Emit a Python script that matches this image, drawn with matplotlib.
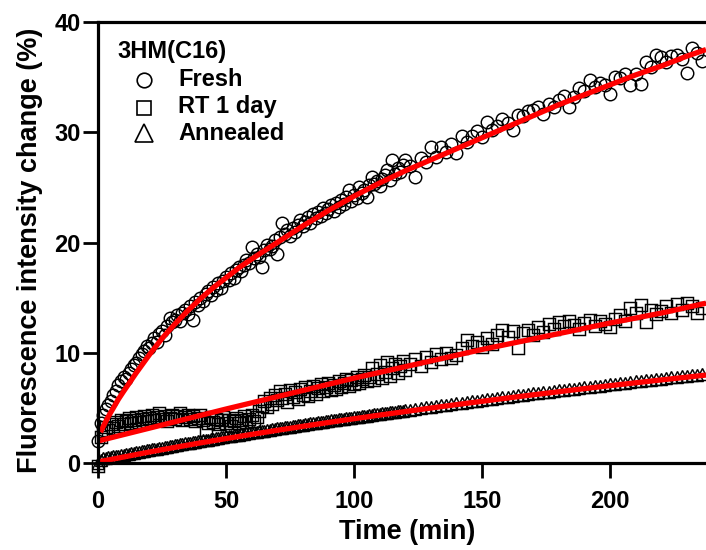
import numpy as np
import matplotlib
matplotlib.use("Agg")
import matplotlib.pyplot as plt
from matplotlib.lines import Line2D

# ---------------- data ----------------
time_min = np.concatenate([np.arange(0, 121, 1), np.arange(122, 237, 2)])

fresh = [
    2.0, 3.6, 4.4, 4.9, 5.3, 5.6, 6.2, 6.5, 7.1, 7.4,
    7.8, 7.6, 8.2, 8.5, 8.9, 9.1, 9.5, 9.9, 10.2, 10.6,
    10.4, 10.9, 11.3, 11.0, 11.7, 12.0, 11.6, 12.4, 13.2, 12.8,
    13.0, 13.4, 12.9, 13.6, 13.9, 13.5, 14.2, 13.0, 14.6, 14.3,
    15.0, 14.7, 15.3, 15.6, 15.2, 16.0, 15.7, 16.3, 15.9, 16.5,
    16.9, 16.6, 17.2, 16.8, 17.5, 17.8, 17.4, 18.0, 18.4, 18.1,
    19.6, 18.6, 19.0, 18.7, 17.8, 19.3, 19.8, 19.4, 19.7, 20.2,
    19.0, 20.5, 21.8, 20.8, 21.1, 20.6, 21.3, 21.0, 21.6, 22.0,
    21.5, 21.9, 22.3, 21.8, 22.6, 22.2, 22.8, 22.4, 23.1, 22.7,
    23.0, 23.4, 22.9, 23.6, 23.2, 23.9, 23.5, 24.1, 24.8, 23.8,
    24.3, 24.0, 25.0, 24.5, 24.8, 24.1, 25.2, 25.9, 25.3, 25.6,
    25.1, 25.8, 26.1, 26.6, 25.7, 27.5, 26.2, 26.8, 26.4, 27.0,
    27.5,
    26.9, 25.9, 27.7, 27.3, 28.7, 27.8, 28.7, 28.2, 28.9, 28.1,
    29.7, 29.1, 29.7, 30.1, 29.6, 30.9, 30.2, 30.6, 31.2, 30.8,
    30.2, 31.6, 31.5, 31.9, 32.0, 32.3, 31.7, 32.6, 32.3, 32.9,
    33.3, 32.3, 33.2, 34.0, 33.7, 34.7, 34.1, 34.5, 34.3, 33.5,
    35.0, 34.9, 35.3, 34.3, 35.3, 34.4, 36.4, 35.9, 37.0, 36.8,
    36.4, 36.9, 37.0, 36.6, 35.4, 37.6, 37.2, 36.5,
]

rt_1day = [
    -0.3, 2.4, 2.9, 3.3, 3.0, 3.5, 3.2, 3.7, 3.4, 3.9,
    3.5, 3.8, 4.1, 3.6, 3.9, 4.2, 3.7, 4.0, 4.3, 3.8,
    4.1, 4.4, 3.9, 4.2, 4.5, 4.0, 4.3, 3.8, 4.1, 4.4,
    4.0, 4.3, 4.5, 3.9, 4.2, 4.4, 4.0, 4.3, 3.8, 4.1,
    4.4, 3.9, 3.0, 3.6, 4.2, 3.7, 4.0, 3.5, 3.9, 4.2,
    3.6, 3.9, 3.4, 3.8, 4.1, 3.6, 3.9, 4.3, 3.7, 4.0,
    4.4, 3.8, 4.2, 4.7, 5.2, 5.6, 5.1, 5.9, 5.4, 6.2,
    5.7, 6.5, 5.9, 6.3, 5.5, 6.6, 6.0, 6.4, 5.8, 6.7,
    6.2, 6.9, 6.1, 6.5, 7.0, 6.3, 6.8, 7.2, 6.5, 6.9,
    7.3, 6.6, 7.1, 6.7, 7.4, 6.9, 7.3, 7.6, 7.0, 7.5,
    7.2, 7.8, 7.3, 7.6, 8.0, 7.4, 7.8, 8.6, 7.5, 8.1,
    8.9, 7.7, 8.3, 9.2, 7.9, 8.6, 9.0, 8.2, 8.8, 9.3,
    8.4,
    9.0, 9.4, 8.8, 9.6, 9.2, 9.9, 9.4, 10.0, 9.5, 9.8,
    10.4, 11.2, 10.6, 11.0, 10.5, 11.3, 10.8, 11.6, 12.1, 11.4,
    12.0, 10.4, 11.8, 12.1, 11.6, 12.3, 11.9, 12.6, 12.2, 12.8,
    12.4, 12.9, 12.5, 12.2, 12.7, 13.0, 12.4, 12.9, 12.6, 12.3,
    13.1, 13.4, 12.9, 14.1, 13.6, 14.3, 12.8, 13.9, 13.5, 13.8,
    14.2, 13.6, 14.4, 13.9, 14.5, 14.2, 13.6, 14.1,
]

annealed = [
    0.05, 0.32, 0.42, 0.45, 0.52, 0.55, 0.60, 0.63, 0.68, 0.72,
    0.77, 0.80, 0.86, 0.89, 0.95, 0.97, 1.03, 1.06, 1.12, 1.14,
    1.20, 1.23, 1.28, 1.31, 1.37, 1.39, 1.45, 1.47, 1.53, 1.55,
    1.61, 1.65, 1.70, 1.72, 1.78, 1.80, 1.86, 1.89, 1.94, 1.97,
    2.02, 2.06, 2.10, 2.13, 2.18, 2.21, 2.25, 2.29, 2.33, 2.36,
    2.41, 2.44, 2.48, 2.51, 2.56, 2.58, 2.63, 2.66, 2.70, 2.73,
    2.78, 2.81, 2.85, 2.88, 2.92, 2.95, 2.99, 3.02, 3.06, 3.09,
    3.14, 3.17, 3.21, 3.24, 3.28, 3.31, 3.35, 3.38, 3.42, 3.45,
    3.49, 3.52, 3.56, 3.59, 3.63, 3.66, 3.70, 3.72, 3.76, 3.79,
    3.83, 3.86, 3.89, 3.92, 3.96, 3.99, 4.02, 4.05, 4.09, 4.12,
    4.15, 4.18, 4.22, 4.25, 4.28, 4.31, 4.34, 4.37, 4.41, 4.44,
    4.47, 4.50, 4.53, 4.56, 4.59, 4.62, 4.65, 4.68, 4.71, 4.74,
    4.77,
    4.85, 4.91, 4.98, 5.04, 5.11, 5.17, 5.23, 5.29, 5.35, 5.42,
    5.48, 5.54, 5.60, 5.66, 5.72, 5.78, 5.84, 5.90, 5.96, 6.02,
    6.08, 6.14, 6.19, 6.25, 6.31, 6.36, 6.42, 6.47, 6.53, 6.59,
    6.64, 6.70, 6.75, 6.81, 6.87, 6.92, 6.97, 7.03, 7.08, 7.14,
    7.19, 7.24, 7.30, 7.35, 7.40, 7.45, 7.50, 7.56, 7.61, 7.66,
    7.71, 7.76, 7.81, 7.86, 7.91, 7.96, 8.01, 8.06,
]

# fitted curves (red)
fresh_fit_t = [1, 2, 4, 6, 8, 10, 15, 20, 25, 30, 35, 40, 45, 50, 55, 60, 70, 80, 90,
               100, 110, 120, 130, 140, 150, 160, 170, 180, 190, 200, 210, 220, 230, 237.5]
fresh_fit_v = [2.8, 3.3, 4.2, 5.0, 5.8, 6.5, 8.2, 9.8, 11.3, 12.6, 13.8, 14.9, 15.9, 16.8,
               17.7, 18.5, 20.0, 21.5, 22.9, 24.2, 25.4, 26.5, 27.5, 28.5, 29.5, 30.5,
               31.5, 32.5, 33.4, 34.3, 35.2, 36.0, 36.9, 37.5]
rt_fit_t = [0, 25, 50, 75, 100, 125, 150, 175, 200, 220, 237.5]
rt_fit_v = [2.0, 3.45, 4.9, 6.3, 7.7, 9.0, 10.3, 11.5, 12.7, 13.6, 14.5]
ann_fit_t = [0, 10, 20, 30, 40, 50, 60, 70, 80, 90, 100, 110, 120, 130, 140, 150,
             160, 170, 180, 190, 200, 210, 220, 230, 237.5]
ann_fit_v = [0.10, 0.55, 1.0, 1.42, 1.83, 2.22, 2.6, 2.97, 3.33, 3.68, 4.02, 4.35,
             4.67, 4.99, 5.3, 5.6, 5.9, 6.19, 6.47, 6.75, 7.02, 7.28, 7.54, 7.79, 7.98]

series_labels = ["Fresh", "RT 1 day", "Annealed"]
series_markers = ["o", "s", "^"]
legend_title = "3HM(C16)"
x_ticks = [0, 50, 100, 150, 200]
y_ticks = [0, 10, 20, 30, 40]

# ---------------- plot ----------------
plt.rcParams['font.family'] = ['Liberation Sans', 'DejaVu Sans']
plt.rcParams['font.weight'] = 'bold'

W, H = 706, 550
fig = plt.figure(figsize=(W / 100, H / 100), dpi=100)
ax = fig.add_axes([98 / W, 1 - 470 / H, 608 / W, 448 / H])

common = dict(linestyle='none', mfc='none', mec='black', mew=1.05, clip_on=False, zorder=3)
ax.plot(time_min, fresh, marker='o', ms=9.0, **common)
ax.plot(time_min, rt_1day, marker='s', ms=9.0, **common)
ax.plot(time_min, annealed, marker='^', ms=9.0, **common)

red = '#ff0000'
for ft, fv in [(fresh_fit_t, fresh_fit_v), (rt_fit_t, rt_fit_v), (ann_fit_t, ann_fit_v)]:
    ax.plot(ft, fv, color=red, lw=3.8, zorder=5, solid_capstyle='butt', clip_on=False)

ax.set_xlim(0, 237.5)
ax.set_ylim(-0.63, 40)
ax.spines['bottom'].set_position(('data', 0))
ax.spines['right'].set_visible(False)
for s in ['left', 'bottom', 'top']:
    ax.spines[s].set_linewidth(2.3)
    ax.spines[s].set_zorder(6)

ax.set_xticks(x_ticks)
ax.set_yticks(y_ticks)
ax.tick_params(axis='both', direction='out', length=10.5, width=2.0, labelsize=17)
ax.tick_params(axis='x', pad=9)
ax.tick_params(axis='y', pad=2)
for lab in ax.get_xticklabels() + ax.get_yticklabels():
    lab.set_fontweight('bold')

fig.text(30 / W, 1 - 250 / H, "Fluorescence intensity change (%)", rotation=90,
         ha='center', va='center', fontsize=19.5, fontweight='bold')
fig.text(407 / W, 1 - 532 / H, "Time (min)", ha='center', va='center',
         fontsize=19.5, fontweight='bold')

# legend (drawn in figure pixel coordinates)
def fy(py):
    return 1 - py / H

fig.text(117 / W, fy(58), legend_title, ha='left', va='baseline',
         fontsize=17, fontweight='bold')
leg_rows = [(79.5, 86, 10.5), (107.5, 113, 10.5), (132.5, 140, 12.5)]
for (my, by, msz), lab, mk in zip(leg_rows, series_labels, series_markers):
    fig.add_artist(Line2D([144 / W], [fy(my)], transform=fig.transFigure, marker=mk,
                          linestyle='none', mfc='none', mec='black', mew=1.2, ms=msz))
    fig.text(178 / W, fy(by), lab, ha='left', va='baseline', fontsize=17,
             fontweight='bold')

fig.savefig('out.png', dpi=100)
